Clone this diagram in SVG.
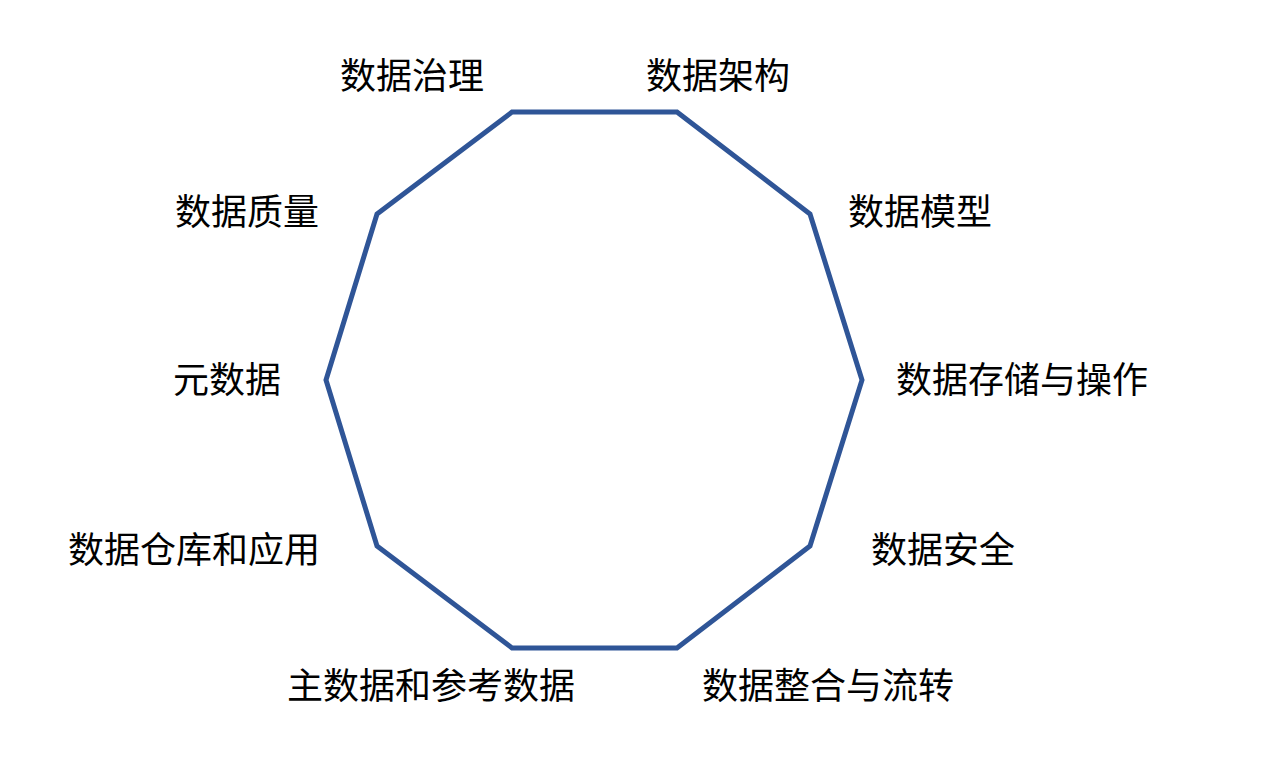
<svg xmlns="http://www.w3.org/2000/svg" width="1262" height="776" viewBox="0 0 1262 776">
<style>
.lbl{font-family:"Noto Sans CJK SC","Noto Sans",sans-serif;font-size:36px;fill:#000;}
.edge{fill:none;stroke:#2F5597;stroke-width:5;stroke-linejoin:miter;}
</style>
<rect width="1262" height="776" fill="#fff"/>
<g id="connectors">
<polygon class="edge" points="512,112 677,112 810,214 862,380 810,546 677,648 512,648 377,546 326,380 377,214"/>
</g>
<g id="n1"><text class="lbl" x="340" y="89">数据治理</text></g>
<g id="n2"><text class="lbl" x="646" y="89">数据架构</text></g>
<g id="n3"><text class="lbl" x="848" y="225">数据模型</text></g>
<g id="n4"><text class="lbl" x="896" y="393">数据存储与操作</text></g>
<g id="n5"><text class="lbl" x="871" y="563">数据安全</text></g>
<g id="n6"><text class="lbl" x="702" y="699">数据整合与流转</text></g>
<g id="n7"><text class="lbl" x="287" y="699">主数据和参考数据</text></g>
<g id="n8"><text class="lbl" x="68" y="563">数据仓库和应用</text></g>
<g id="n9"><text class="lbl" x="173" y="393">元数据</text></g>
<g id="n10"><text class="lbl" x="175" y="225">数据质量</text></g>
</svg>
